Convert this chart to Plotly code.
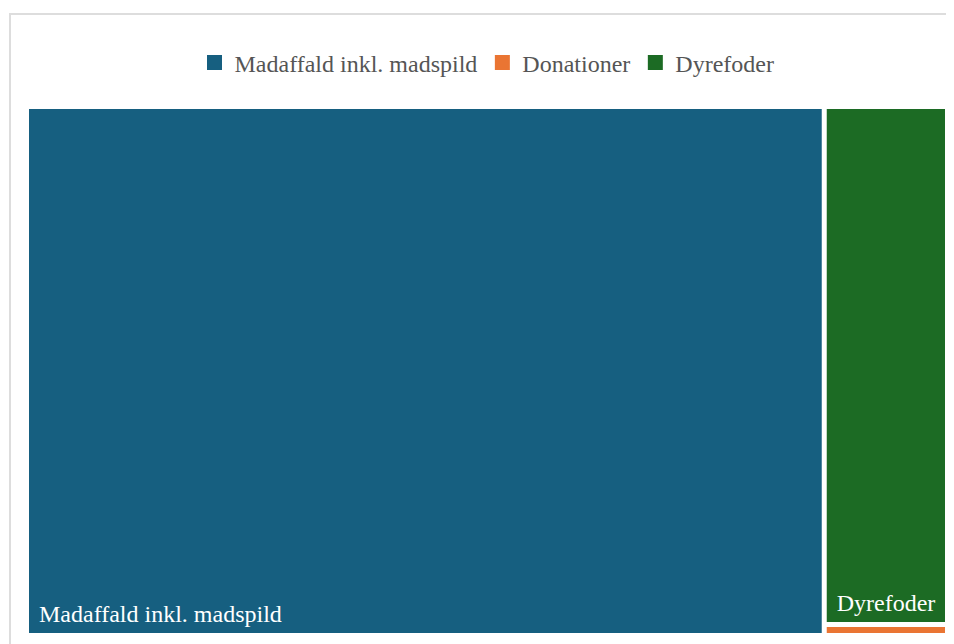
import plotly.graph_objects as go

labels = ["Madaffald inkl. madspild", "Donationer", "Dyrefoder"]
values = [86.6, 0.28, 13.1]
colors = ["#165f80", "#ea7533", "#1c6b24"]
show_label = [True, False, True]

# the page body adds an 8px offset, so the figure is drawn smaller
W, H = 938, 636
ml, mr, mt, mb = 20, 0, 100, 10

# leading space / empty subscript give the label some inset from the tile corner
label_tpl = "<span style='font-size:32px'>\u00a0</span>%{label}<sub>\u00a0</sub>"
templates = [label_tpl if s else " " for s in show_label]

fig = go.Figure()

fig.add_trace(go.Treemap(
    labels=labels,
    parents=[""] * len(labels),
    values=values,
    marker=dict(colors=colors, line=dict(color="white", width=2),
                pad=dict(t=0, l=0, r=0, b=0)),
    texttemplate=templates,
    textposition="bottom left",
    textfont=dict(family="Liberation Serif", size=24, color="white"),
    pathbar=dict(visible=False),
    sort=True,
    hoverinfo="label+value",
))

# legend entries (treemap has no legend of its own)
for lab, col in zip(labels, colors):
    fig.add_trace(go.Scatter(
        x=[None], y=[None], mode="markers", name=lab,
        marker=dict(symbol="square", size=15, color=col),
    ))

pw = W - ml - mr
ph = H - mt - mb
fig.add_shape(
    type="rect", xref="paper", yref="paper",
    x0=(2 - ml) / pw, x1=(W + 20 - ml) / pw,
    y0=-(mb + 20) / ph, y1=1 + (mt - 6) / ph,
    line=dict(color="#dddddd", width=2), layer="below",
)

fig.update_layout(
    width=W, height=H,
    margin=dict(l=ml, r=mr, t=mt, b=mb),
    paper_bgcolor="white", plot_bgcolor="white",
    font=dict(family="Liberation Serif", size=24, color="#555555"),
    xaxis=dict(visible=False), yaxis=dict(visible=False),
    legend=dict(orientation="h", x=0.5, xanchor="center", y=1 + (mt - 55) / ph,
                yanchor="middle", font=dict(size=24, color="#555555"),
                itemclick=False),
)

fig.write_html("out.html")
